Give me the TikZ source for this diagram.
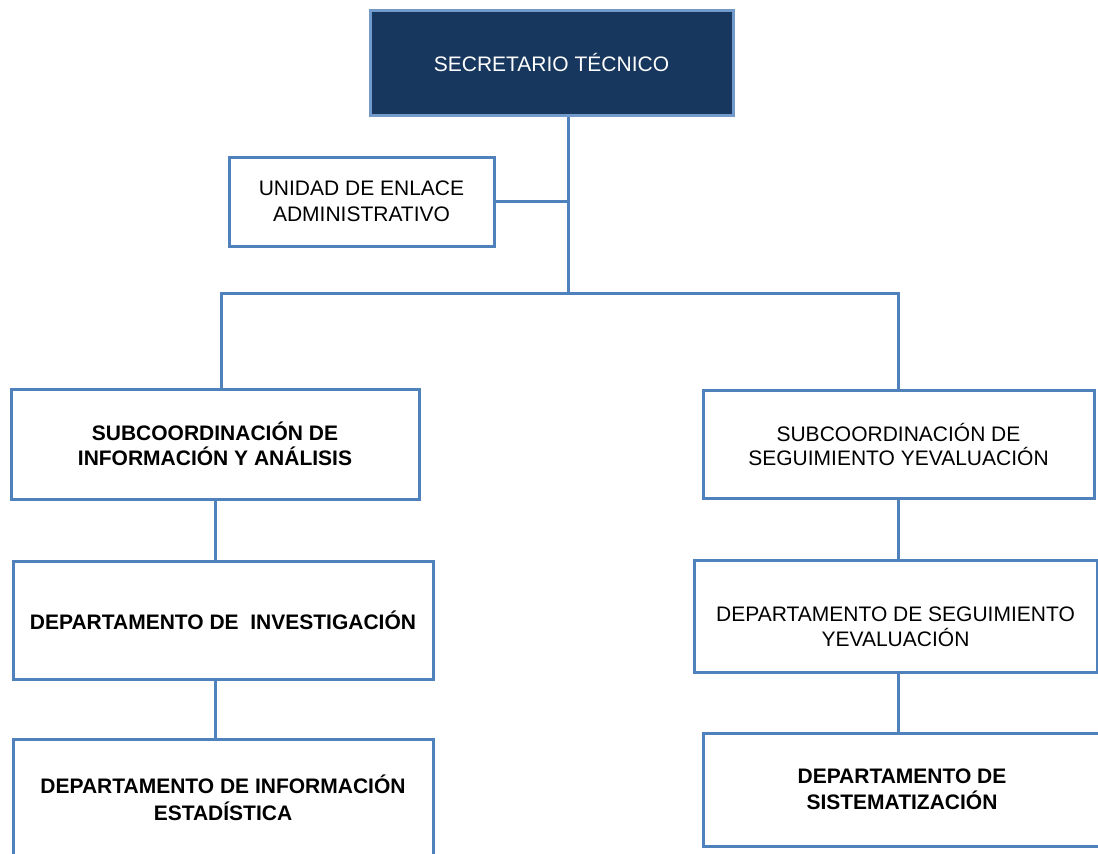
\documentclass[tikz,border=0pt]{standalone}
\usepackage{fontspec}
\setmainfont{Liberation Sans}
\definecolor{lineblue}{HTML}{4F81BD}
\definecolor{navy}{HTML}{17375E}
\tikzset{
  unitbox/.style={draw=lineblue, line width=3pt, fill=white, align=center,
    inner sep=0pt, font=\fontsize{21}{26}\selectfont},
  headbox/.style={unitbox, fill=navy, draw=lineblue!80!white, text=white},
  link/.style={lineblue, line width=3pt},
}

\begin{document}
\begin{tikzpicture}[x=1pt,y=-1pt]
  \clip (0,0) rectangle (1098,854);
  \node[headbox, minimum width=363pt, minimum height=105pt] (sec) at (551.5,62.5) {SECRETARIO TÉCNICO};
  \node[unitbox, minimum width=265pt, minimum height=89pt] (enlace) at (361.5,201.5) {UNIDAD DE ENLACE\\ADMINISTRATIVO};
  \node[unitbox, minimum width=408pt, minimum height=110pt, font=\fontsize{21}{25}\selectfont\bfseries] (subinfo) at (215,444) {SUBCOORDINACIÓN DE\\INFORMACIÓN Y ANÁLISIS};
  \node[unitbox, minimum width=391pt, minimum height=108pt, font=\fontsize{21}{24}\selectfont] (subseg) at (898.5,444) {SUBCOORDINACIÓN DE\\SEGUIMIENTO YEVALUACIÓN};
  \node[unitbox, minimum width=420pt, minimum height=118pt, font=\fontsize{21}{26}\selectfont\bfseries] (depinv) at (223,620) {DEPARTAMENTO DE \ INVESTIGACIÓN};
  \node[unitbox, minimum width=420pt, minimum height=118pt, font=\fontsize{21}{27}\selectfont\bfseries] (depest) at (223,798) {DEPARTAMENTO DE INFORMACIÓN\\ESTADÍSTICA};
  \node[unitbox, minimum width=403pt, minimum height=112pt] (depseg) at (895.5,616) {};
  \node[align=center, inner sep=0pt, font=\fontsize{21}{25}\selectfont] (depsegtext) at ([yshift=-11pt] depseg.center) {DEPARTAMENTO DE SEGUIMIENTO\\YEVALUACIÓN};
  \node[unitbox, minimum width=398pt, minimum height=113pt, font=\fontsize{21}{26}\selectfont\bfseries] (depsis) at (902,789.5) {DEPARTAMENTO DE\\SISTEMATIZACIÓN};

  % bus lines
  \coordinate (bus) at (568,293);
  \coordinate (busl) at (221,293);
  \coordinate (busr) at (898,293);
  \draw[link] (sec.south -| bus) -- (bus);
  \draw[link] (enlace.east) -- (enlace.east -| bus);
  \draw[link] (busl |- subinfo.north) -- (busl) -- (busr) -- (busr |- subseg.north);

  \draw[link] (subinfo.south) -- (subinfo.south |- depinv.north);
  \draw[link] (subinfo.south |- depinv.south) -- (subinfo.south |- depest.north);
  \draw[link] (subseg.south) -- (subseg.south |- depseg.north);
  \draw[link] (subseg.south |- depseg.south) -- (subseg.south |- depsis.north);
\end{tikzpicture}
\end{document}
